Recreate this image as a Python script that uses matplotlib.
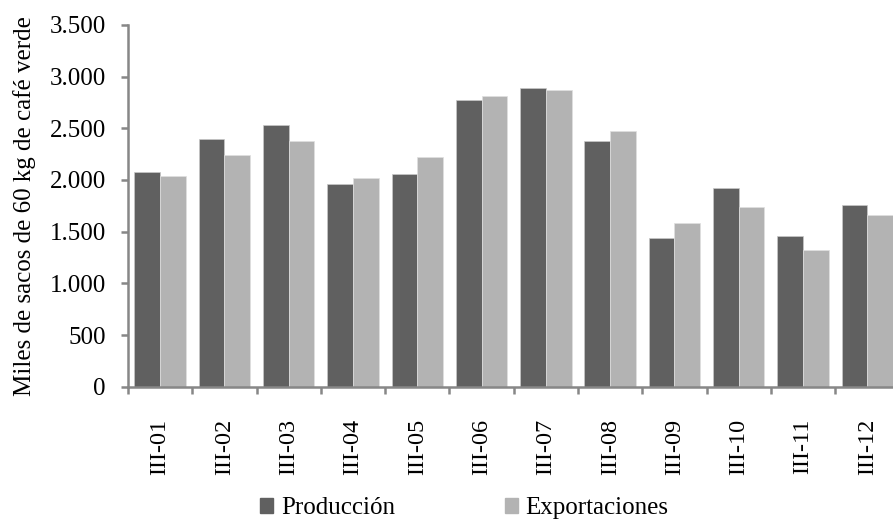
import matplotlib.pyplot as plt
import numpy as np
from matplotlib.patches import Patch

plt.rcParams['font.family'] = ['Liberation Serif', 'DejaVu Serif']

periodos = ["III-01", "III-02", "III-03", "III-04", "III-05", "III-06",
            "III-07", "III-08", "III-09", "III-10", "III-11", "III-12"]
produccion = [2075, 2398, 2531, 1962, 2059, 2777, 2886, 2379, 1435, 1926, 1454, 1755]
exportaciones = [2040, 2246, 2379, 2020, 2227, 2812, 2870, 2476, 1587, 1739, 1325, 1662]
y_ticks = [0, 500, 1000, 1500, 2000, 2500, 3000, 3500]
y_labels = ["0", "500", "1.000", "1.500", "2.000", "2.500", "3.000", "3.500"]

c_prod = "#606060"
c_exp = "#b3b3b3"
axis_gray = "#878787"

fig = plt.figure(figsize=(8.93, 5.22), dpi=100)
# the plot area runs slightly past the right edge of the figure
ax = fig.add_axes([0.1433, 0.2592, 0.864, 0.693])

x = np.arange(len(periodos))
w = 0.40
ax.bar(x - w / 2, produccion, w, color=c_prod, edgecolor="#c8c8c8", linewidth=0.5)
ax.bar(x + w / 2, exportaciones, w, color=c_exp, edgecolor="#e0e0e0", linewidth=0.5)

ax.set_xlim(-0.5, len(periodos) - 0.5)
ax.set_ylim(0, 3500)
ax.set_yticks(y_ticks)
ax.set_yticklabels(y_labels)

# category labels in the middle, ticks on the category boundaries
ax.set_xticks(x)
ax.set_xticklabels(periodos, rotation=90)
ax.set_xticks(np.arange(len(periodos) + 1) - 0.5, minor=True)
ax.tick_params(axis="x", which="major", length=0, pad=23, labelsize=17.5)
ax.tick_params(axis="x", which="minor", length=5, width=1.8, color=axis_gray, direction="out")
ax.tick_params(axis="y", length=5, width=1.8, color=axis_gray, pad=11, labelsize=18)

for s in ["top", "right"]:
    ax.spines[s].set_visible(False)
for s in ["left", "bottom"]:
    ax.spines[s].set_color(axis_gray)
    ax.spines[s].set_linewidth(1.8)

ax.set_ylabel("Miles de sacos de 60 kg de café verde", fontsize=18, labelpad=10)

handles = [Patch(color=c_prod, label="Producción"), Patch(color=c_exp, label="Exportaciones")]
fig.legend(handles=handles, loc="center", bbox_to_anchor=(0.52, 0.026), ncol=2,
           frameon=False, fontsize=18, handlelength=0.52, handleheight=0.52,
           handletextpad=0.3, columnspacing=4.4, borderaxespad=0)

fig.savefig("out.png", dpi=100)
